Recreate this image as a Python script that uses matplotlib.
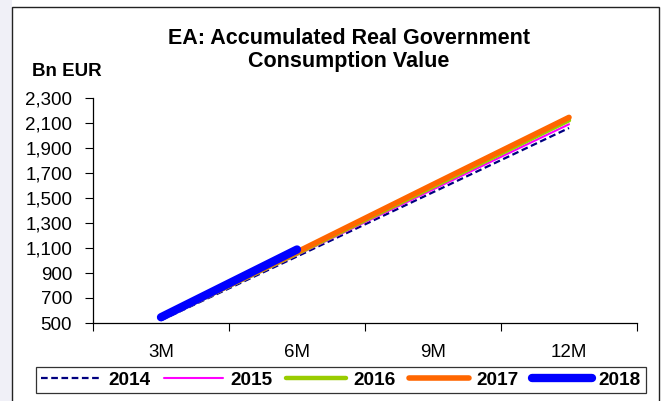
import matplotlib
matplotlib.use("Agg")
import matplotlib.pyplot as plt
from matplotlib.patches import Rectangle

# accumulated real government consumption, euro area (bn EUR)
periods = ["3M", "6M", "9M", "12M"]
years = ["2014", "2015", "2016", "2017", "2018"]
values_2014 = [522, 1032, 1546, 2060]
values_2015 = [528, 1044, 1568, 2090]
values_2016 = [534, 1056, 1590, 2122]
values_2017 = [540, 1068, 1608, 2145]
values_2018 = [546, 1088]

series = [values_2014, values_2015, values_2016, values_2017, values_2018]
styles = [
    dict(color="#000080", lw=1.6, ls=(0, (3, 1.6))),
    dict(color="#FF00FF", lw=1.5, ls="-"),
    dict(color="#99CC00", lw=3.2, ls="-"),
    dict(color="#FF6600", lw=4.0, ls="-"),
    dict(color="#0000FF", lw=6.0, ls="-"),
]

plt.rcParams["font.family"] = ["Liberation Sans", "DejaVu Sans"]
W, H = 667, 401
fig = plt.figure(figsize=(W / 100, H / 100), dpi=100)
fig.patch.set_facecolor("white")

# faint slide background strip and the chart frame (behind the axes)
fig.patches.append(Rectangle((0, 0), 12 / W, 1, transform=fig.transFigure,
                             facecolor="#f0f0f7", edgecolor="none", zorder=-2))
fig.patches.append(Rectangle((12 / W, -0.05), 647 / W, 1.05 - 7 / H,
                             transform=fig.transFigure, facecolor="white",
                             edgecolor="#222222", lw=1.0, zorder=-1))

ax = fig.add_axes([93 / W, 1 - 323 / H, (637 - 93) / W, (323 - 98) / H])
ax.set_facecolor("none")

for yr, vals, st in zip(years, series, styles):
    ax.plot(range(len(vals)), vals, label=yr, solid_capstyle="round",
            dash_capstyle="butt", **st)

ax.set_xlim(-0.5, len(periods) - 0.5)
ax.set_ylim(500, 2300)
ax.set_yticks(range(500, 2301, 200))
ax.set_yticklabels([f"{v:,}" for v in range(500, 2301, 200)])

# category ticks sit between the periods, labels in the middle
ax.set_xticks([i - 0.5 for i in range(len(periods) + 1)])
ax.set_xticklabels([])
ax.set_xticks(range(len(periods)), minor=True)
ax.set_xticklabels(periods, minor=True)
ax.tick_params(axis="x", which="major", direction="out", length=6, width=0.8)
ax.tick_params(axis="x", which="minor", length=0, pad=15, labelsize=13.5)
ax.tick_params(axis="y", direction="out", length=6, width=0.8, pad=9,
               labelsize=13.5)

for s in ["top", "right"]:
    ax.spines[s].set_visible(False)
for s in ["left", "bottom"]:
    ax.spines[s].set_linewidth(0.9)
    ax.spines[s].set_color("black")

fig.text(349 / W, 1 - 50 / H, "EA: Accumulated Real Government\nConsumption Value",
         ha="center", va="center", fontsize=15.5, fontweight="bold",
         linespacing=1.15)
fig.text(32 / W, 1 - 71 / H, "Bn EUR", ha="left", va="center",
         fontsize=13.5, fontweight="bold")

leg = fig.legend(loc="center", bbox_to_anchor=(341 / W, 1 - 380 / H),
                 ncol=5, frameon=True, fancybox=False, handlelength=3.15,
                 handletextpad=0.38, columnspacing=0.7, borderpad=0.25,
                 borderaxespad=0, prop=dict(size=13.7, weight="bold"))
leg.get_frame().set_edgecolor("black")
leg.get_frame().set_linewidth(0.9)

fig.savefig("out.png", dpi=100)
